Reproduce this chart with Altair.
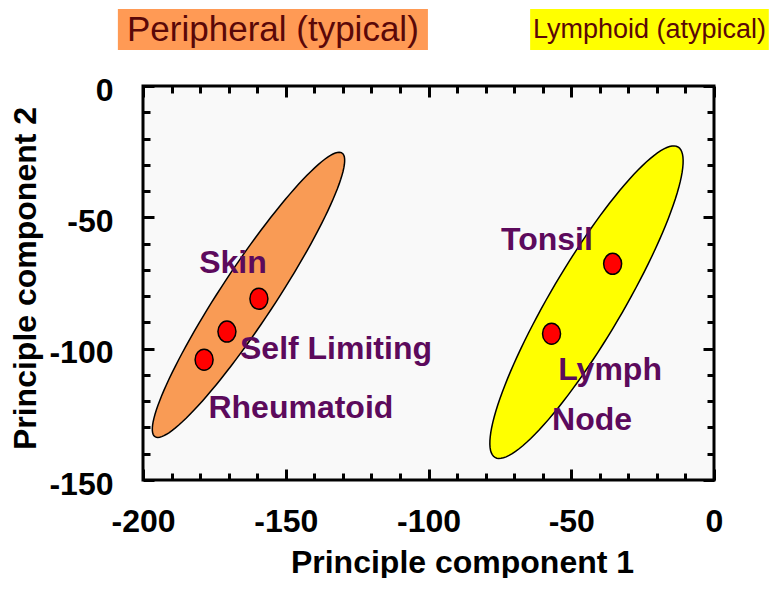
import altair as alt
import numpy as np
import pandas as pd

# ---------------- data ----------------
x_ticks = [-200, -190, -180, -170, -160, -150, -140, -130, -120, -110, -100,
           -90, -80, -70, -60, -50, -40, -30, -20, -10, 0]
y_ticks = [-150, -140, -130, -120, -110, -100, -90, -80, -70, -60, -50,
           -40, -30, -20, -10, 0]
x_labels = [-200, -150, -100, -50, 0]
y_labels = [-150, -100, -50, 0]

sample_names = ["Skin", "Self Limiting", "Rheumatoid", "Tonsil", "Lymph Node"]
sample_x = [-159.4, -170.6, -178.6, -35.5, -56.9]
sample_y = [-81.0, -93.5, -104.2, -67.7, -94.3]

label_text = ["Skin", "Self Limiting", "Rheumatoid", "Tonsil", "Lymph", "Node"]
label_x = [-168.5, -132.4, -144.7, -58.5, -36.4, -42.7]
label_y = [-67.3, -100.0, -122.4, -58.6, -108.0, -127.0]

group_names = ["Peripheral (typical)", "Lymphoid (atypical)"]
group_colors = ["#F99B55", "#FFFF00"]
box_colors = ["#FF9A55", "#FFFF00"]
ell_center_x = [-163.05, -44.66]
ell_center_y = [-79.5, -82.3]
ell_major_dx = [32.75, 32.05]
ell_major_dy = [54.0, 59.1]
ell_minor_dx = [7.9, 10.9]
ell_minor_dy = [-5.6, -6.95]

# legend box placement (layout, in axis units, outside the plotting domain)
legend_x0 = [-208.8, -64.4]
legend_x1 = [-100.2, 19.2]
legend_y0 = 13.7
legend_y1 = 29.3

# ---------------- tables ----------------
W, H = 571, 394
FONT = "Liberation Sans"
LABEL_COLOR = "#5c0a5c"

t = np.linspace(0, 2 * np.pi, 121)


def ellipse_df(i):
    return pd.DataFrame({
        "i": np.arange(len(t)),
        "x": ell_center_x[i] + ell_major_dx[i] * np.cos(t) + ell_minor_dx[i] * np.sin(t),
        "y": ell_center_y[i] + ell_major_dy[i] * np.cos(t) + ell_minor_dy[i] * np.sin(t),
    })


points_df = pd.DataFrame({"name": sample_names, "x": sample_x, "y": sample_y})
labels_df = pd.DataFrame({"text": label_text, "x": label_x, "y": label_y})
legend_df = pd.DataFrame({
    "name": group_names,
    "color": box_colors,
    "x0": legend_x0,
    "x1": legend_x1,
    "y0": [legend_y0] * 2,
    "y1": [legend_y1] * 2,
})
legend_df["xc"] = (legend_df["x0"] + legend_df["x1"]) / 2
legend_df["yc"] = (legend_df["y0"] + legend_df["y1"]) / 2

xscale = alt.Scale(domain=[-200, 0], nice=False, zero=False)
yscale = alt.Scale(domain=[-150, 0], nice=False, zero=False)

tick_len = {"condition": {"test": "abs(datum.value) % 50 === 0", "value": 11}, "value": 7}
hyphen_label = "datum.value < 0 ? '-' + abs(datum.value) : '' + datum.value"


def tick_axis(orient, offset, values):
    return alt.Axis(orient=orient, offset=offset, values=values, labels=False,
                    domain=False, grid=False, ticks=True, tickSize=tick_len,
                    tickWidth=3, tickColor="black", title="")


x_label_axis = alt.Axis(
    orient="bottom", values=x_labels, ticks=False, tickSize=0, domain=False, grid=False,
    labelFont=FONT, labelFontSize=32, labelFontWeight="bold", labelColor="black",
    labelPadding=26, labelFlush=False, labelOverlap=False, labelExpr=hyphen_label,
    title="Principle component 1", titleFont=FONT, titleFontSize=32,
    titleFontWeight="bold", titleColor="black", titleX=319, titleY=92,
    titleBaseline="alphabetic", titleAlign="center")

y_label_axis = alt.Axis(
    orient="left", values=y_labels, ticks=False, tickSize=0, domain=False, grid=False,
    labelFont=FONT, labelFontSize=32, labelFontWeight="bold", labelColor="black",
    labelPadding=30, labelOffset=4, labelFlush=False, labelOverlap=False,
    labelBaseline="middle", labelExpr=hyphen_label,
    title="Principle component 2", titleFont=FONT, titleFontSize=32,
    titleFontWeight="bold", titleColor="black", titleX=-108, titleY=192,
    titleAngle=270, titleBaseline="alphabetic", titleAlign="center")

orange = alt.Chart(ellipse_df(0)).mark_line(
    fill=group_colors[0], stroke="black", strokeWidth=1.5, interpolate="linear"
).encode(
    x=alt.X("x:Q", scale=xscale, axis=x_label_axis),
    y=alt.Y("y:Q", scale=yscale, axis=y_label_axis),
    order=alt.Order("i:Q"),
)

yellow = alt.Chart(ellipse_df(1)).mark_line(
    fill=group_colors[1], stroke="black", strokeWidth=1.5, interpolate="linear"
).encode(
    x=alt.X("x:Q", scale=xscale, axis=tick_axis("top", -H, x_ticks)),
    y=alt.Y("y:Q", scale=yscale, axis=tick_axis("right", -W, y_ticks)),
    order=alt.Order("i:Q"),
)

points = alt.Chart(points_df).mark_point(
    shape="M 0 -1.05 A 0.9 1.05 0 1 1 0 1.05 A 0.9 1.05 0 1 1 0 -1.05 Z",
    filled=True, fill="#FF0000", stroke="black", strokeWidth=1.5, size=400, opacity=1
).encode(
    x=alt.X("x:Q", scale=xscale, axis=tick_axis("bottom", -H, x_ticks)),
    y=alt.Y("y:Q", scale=yscale, axis=tick_axis("left", -W, y_ticks)),
)

labels = alt.Chart(labels_df).mark_text(
    font=FONT, fontWeight="bold", fontSize=32, color=LABEL_COLOR,
    align="center", baseline="middle"
).encode(
    x=alt.X("x:Q", scale=xscale, axis=None),
    y=alt.Y("y:Q", scale=yscale, axis=None),
    text="text:N",
)

legend_boxes = alt.Chart(legend_df).mark_rect(clip=False).encode(
    x=alt.X("x0:Q", scale=xscale, axis=None),
    x2="x1:Q",
    y=alt.Y("y0:Q", scale=yscale, axis=None),
    y2="y1:Q",
    color=alt.Color("color:N", scale=None),
)


def legend_text(name, size):
    return alt.Chart(legend_df).transform_filter(
        alt.datum.name == name
    ).mark_text(
        font=FONT, fontSize=size, color="#5a0808", align="center",
        baseline="middle", clip=False
    ).encode(
        x=alt.X("xc:Q", scale=xscale, axis=None),
        y=alt.Y("yc:Q", scale=yscale, axis=None),
        text="name:N",
    )


chart = alt.layer(
    orange, yellow, points, labels, legend_boxes,
    legend_text(group_names[0], 35),
    legend_text(group_names[1], 27),
).resolve_axis(
    x="independent", y="independent"
).properties(
    width=W, height=H,
    autosize=alt.AutoSizeParams(type="none"),
    padding={"left": 135, "top": 78, "right": 56, "bottom": 98},
    background="white",
).configure_view(
    stroke="black", strokeWidth=3, fill="#f9f9f9"
)

chart.save("out.html", embed_options={"renderer": "svg", "actions": False})
